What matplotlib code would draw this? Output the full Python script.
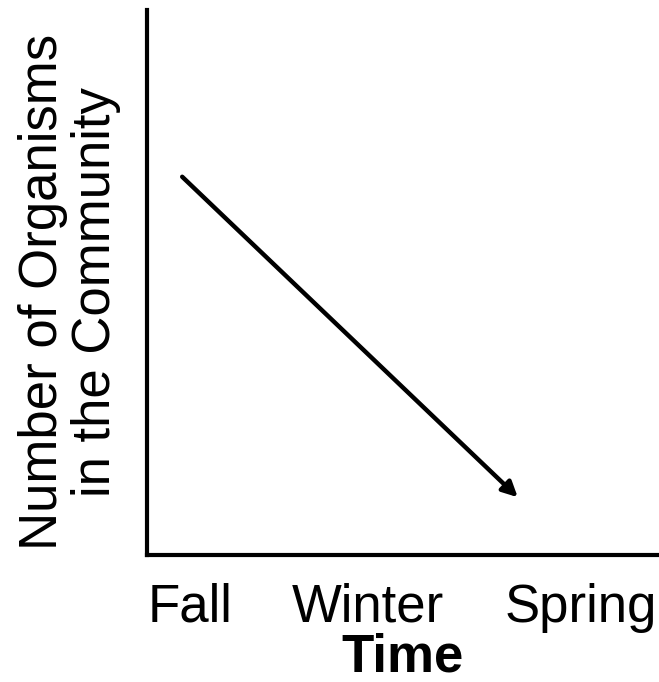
import matplotlib
matplotlib.use("Agg")
import matplotlib.pyplot as plt

plt.rcParams["font.family"] = ["Liberation Sans", "DejaVu Sans"]

seasons = ["Fall", "Winter", "Spring"]
season_pos = [0.84, 4.33, 8.5]
trend_x = [0.69, 7.27]
trend_y = [6.94, 1.06]

fig = plt.figure(figsize=(6.59, 6.82), dpi=100)
ax = fig.add_axes([147 / 659, 127 / 682, 510 / 659, 545 / 682])
ax.set_xlim(0, 10)
ax.set_ylim(0, 10)

# trend arrow: organisms decline from fall to spring
ax.annotate("", xy=(trend_x[1], trend_y[1]), xytext=(trend_x[0], trend_y[0]),
            arrowprops=dict(arrowstyle="-|>,head_length=0.9,head_width=0.45",
                            lw=3.2, color="black", shrinkA=0, shrinkB=0))

for side in ["top", "right"]:
    ax.spines[side].set_visible(False)
for side in ["left", "bottom"]:
    ax.spines[side].set_linewidth(3)

ax.set_xticks(season_pos)
ax.set_xticklabels(seasons, fontsize=38)
ax.set_yticks([])
ax.tick_params(axis="x", length=0, pad=20)

ax.set_xlabel("Time", fontsize=38, fontweight="bold", labelpad=0)
ax.set_ylabel("Number of Organisms\nin the Community", fontsize=38,
              linespacing=1.1)
ax.yaxis.set_label_coords(-0.05, 0.483)

fig.savefig("out.png", dpi=100)
